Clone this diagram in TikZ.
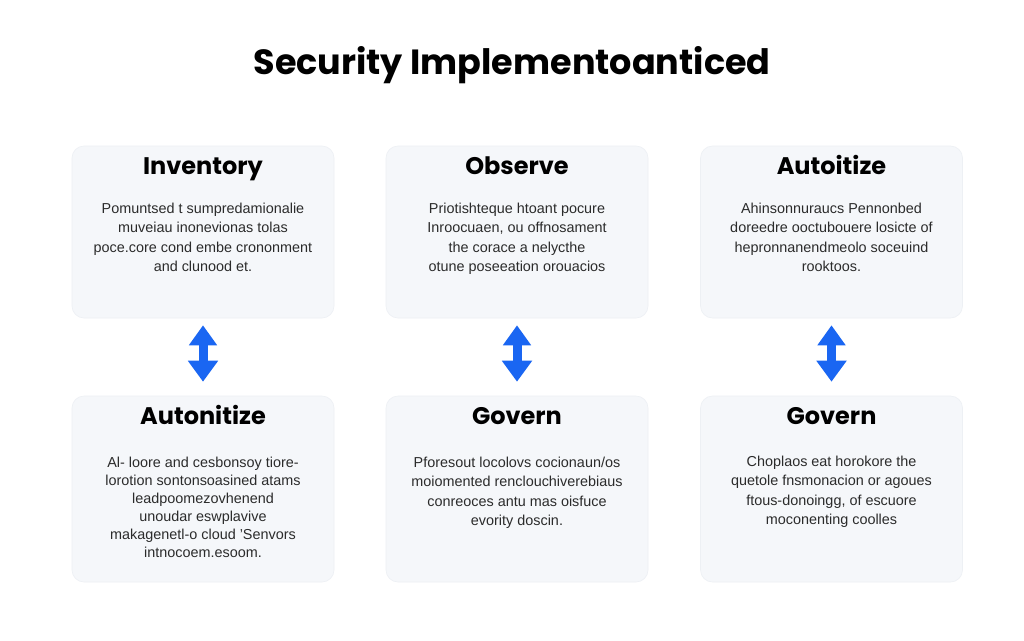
\documentclass[tikz,border=0pt]{standalone}
\usepackage{fontspec}
\setmainfont{Liberation Sans}
\newfontfamily\titlefont{Poppins}
\usetikzlibrary{arrows.meta}
\definecolor{boxfill}{HTML}{F5F7FA}
\definecolor{boxline}{HTML}{EDF0F4}
\definecolor{arrowblue}{HTML}{1A66F2}
\definecolor{bodytext}{HTML}{2B2B2B}
\begin{document}
\begin{tikzpicture}[x=1pt,y=-1pt,
  card/.style={draw=boxline, fill=boxfill, rounded corners=12pt, line width=0.6pt, minimum width=262pt, inner sep=0pt},
  cardtitle/.style={font=\titlefont\bfseries\fontsize{24}{28}\selectfont, text=black, inner sep=0pt, anchor=base},
  cardbody/.style={font=\fontsize{14.4}{19.2}\selectfont, text=bodytext, align=center, anchor=north, inner sep=0pt},
  dbl/.style={draw=arrowblue, line width=9pt, {Triangle[width=27pt,length=20pt]}-{Triangle[width=29pt,length=21pt]}}
]
\useasboundingbox (0,0) rectangle (1024,640);
\fill[white] (0,0) rectangle (1024,640);

\node[font=\titlefont\bfseries\fontsize{35}{42}\selectfont, inner sep=0pt, anchor=base] (title) at (512,74) {Security Implementoanticed};

% cards
\node[card, minimum height=172pt] (c1) at (203,232) {};
\node[card, minimum height=172pt] (c2) at (517,232) {};
\node[card, minimum height=172pt] (c3) at (831.5,232) {};
\node[card, minimum height=186pt] (c4) at (203,489) {};
\node[card, minimum height=186pt] (c5) at (517,489) {};
\node[card, minimum height=186pt] (c6) at (831.5,489) {};

% titles
\node[cardtitle] (t1) at (203,174) {Inventory};
\node[cardtitle] (t2) at (517,174) {Observe};
\node[cardtitle] (t3) at (831.5,174) {Autoitize};
\node[cardtitle] (t4) at (203,424) {Autonitize};
\node[cardtitle] (t5) at (517,424) {Govern};
\node[cardtitle] (t6) at (831.5,424) {Govern};

% bodies
\node[cardbody] (b1) at (203,203) {Pomuntsed t sumpredamionalie\\ muveiau inonevionas tolas\\ poce.core cond embe crononment\\ and clunood et.};
\node[cardbody] (b2) at (517,203) {Priotishteque htoant pocure\\ Inroocuaen, ou offnosament\\ the corace a nelycthe\\ otune poseeation orouacios};
\node[cardbody] (b3) at (831.5,203) {Ahinsonnuraucs Pennonbed\\ doreedre ooctubouere losicte of\\ hepronnanendmeolo soceuind\\ rooktoos.};
\node[cardbody, font=\fontsize{14.4}{17.9}\selectfont] (b4) at (203,457) {Al- loore and cesbonsoy tiore-\\ lorotion sontonsoasined atams\\ leadpoomezovhenend\\ unoudar eswplavive\\ makagenetl-o cloud 'Senvors\\ intnocoem.esoom.};
\node[cardbody] (b5) at (517,457) {Pforesout locolovs cocionaun/os\\ moiomented renclouchiverebiaus\\ conreoces antu mas oisfuce\\ evority doscin.};
\node[cardbody] (b6) at (831.5,456) {Choplaos eat horokore the\\ quetole fnsmonacion or agoues\\ ftous-donoingg, of escuore\\ moconenting coolles};

% connectors
\draw[dbl] ([yshift=-7pt]c1.south) -- ([yshift=14pt]c4.north);
\draw[dbl] ([yshift=-7pt]c2.south) -- ([yshift=14pt]c5.north);
\draw[dbl] ([yshift=-7pt]c3.south) -- ([yshift=14pt]c6.north);
\end{tikzpicture}
\end{document}
